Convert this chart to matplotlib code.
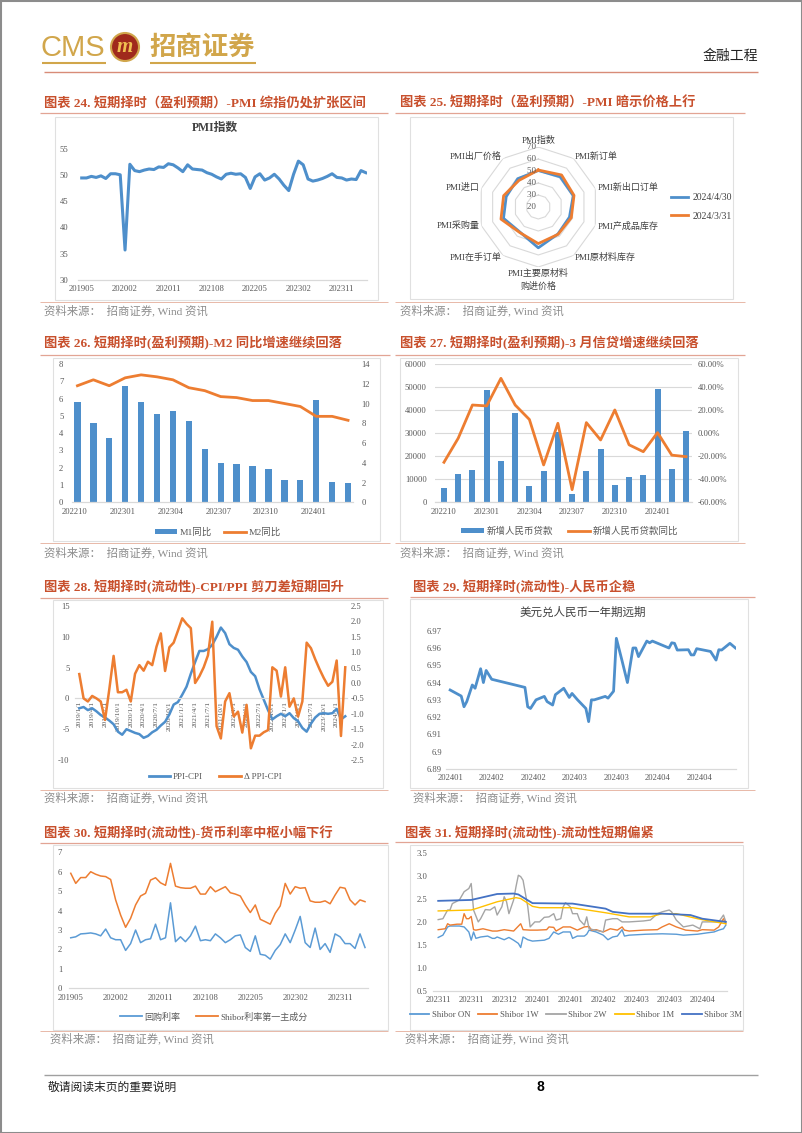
import numpy as np
import matplotlib
matplotlib.use("Agg")
import matplotlib.pyplot as plt
from matplotlib.patches import Rectangle, Circle, Patch
from matplotlib.lines import Line2D

W, H = 802, 1133
SERIF = ['Liberation Serif', 'Noto Sans CJK SC']
plt.rcParams['font.family'] = SERIF
plt.rcParams['axes.unicode_minus'] = False

BLUE = '#4E8FCB'
ORANGE = '#ED7D31'
TICKC = '#595959'
GRIDC = '#D9D9D9'
TITLEC = '#C8502D'
GOLD = '#D1A64B'

# ================= DATA =================
# Chart 24: PMI
pmi_values = [49.4, 49.4, 49.7, 49.5, 49.8, 49.3, 50.2, 50.2,
              50.0, 35.7, 52.0, 50.8, 50.6, 50.9, 51.1, 51.0, 51.5, 51.4, 52.1, 51.9,
              51.3, 50.6, 51.9, 51.1, 51.0, 50.9, 50.4, 50.1, 49.6, 49.2, 50.1, 50.3,
              50.1, 50.2, 49.5, 47.4, 49.6, 50.2, 49.0, 49.4, 50.1, 49.2, 48.0, 47.0,
              50.1, 52.6, 51.9, 49.2, 48.8, 49.0, 49.3, 49.7, 50.2, 49.5, 49.4, 49.0,
              49.2, 49.1, 50.8, 50.4]
monthly_tick_labels = ['201905', '202002', '202011', '202108', '202205', '202302', '202311']

# Chart 25: PMI radar
radar_labels = ['PMI指数', 'PMI新订单', 'PMI新出口订单', 'PMI产成品库存', 'PMI原材料库存',
                'PMI主要原材料\n购进价格', 'PMI在手订单', 'PMI采购量', 'PMI进口', 'PMI出厂价格']
radar_apr = [50.4, 51.1, 50.6, 47.3, 47.8, 54.0, 45.9, 50.5, 48.1, 49.1]
radar_mar = [50.8, 53.0, 51.3, 48.9, 48.1, 50.5, 46.3, 52.7, 50.4, 47.4]
radar_names = ['2024/4/30', '2024/3/31']
radar_rings = [30, 40, 50, 60, 70]
radar_ticks = [20, 30, 40, 50, 60, 70]

# Chart 26: M1 / M2
m1_yoy = [5.8, 4.6, 3.7, 6.7, 5.8, 5.1, 5.3, 4.7, 3.1, 2.3, 2.2, 2.1, 1.9, 1.3, 1.3, 5.9, 1.2, 1.1]
m2_yoy = [11.8, 12.4, 11.8, 12.6, 12.9, 12.7, 12.4, 11.6, 11.3, 10.7, 10.6, 10.3, 10.3, 10.0, 9.7, 8.7, 8.7, 8.3]
quarter_tick_labels = ['202210', '202301', '202304', '202307', '202310', '202401']

# Chart 27: new RMB loans
loan_new = [6152, 12100, 14000, 49000, 18100, 38900, 7188, 13600, 30500, 3459,
            13600, 23100, 7384, 10900, 11700, 49200, 14500, 30900]
loan_yoy = [-25.2, -4.3, 24.6, 23.8, 47.8, 24.6, 12.0, -27.5, 8.7, -49.0,
            9.3, -5.8, 20.3, -10.0, -16.0, 0.6, -19.0, -20.3]

# Chart 28: PPI-CPI and its change
ppi_cpi = [-1.6, -1.4, -1.9, -1.6, -2.1, -2.7, -3.1, -3.6, -4.2, -5.4, -5.9, -5.0,
           -5.3, -5.6, -5.8, -6.4, -6.1, -5.5, -5.1, -4.4, -3.8, -2.6, -1.0, -0.6,
           0.6, 1.9, 4.0, 5.9, 7.7, 7.7, 8.0, 8.7, 10.0, 11.5, 10.6, 8.8,
           8.2, 7.9, 6.8, 5.9, 4.3, 3.6, 1.5, -0.2, -1.9, -3.4, -2.9, -2.5,
           -2.9, -2.4, -3.2, -3.7, -4.8, -5.4, -4.1, -3.1, -2.5, -2.4, -2.5, -2.4,
           -1.7, -3.4, -2.9]
d_ppi_cpi = [0.29, -0.5, -0.6, -0.42, -0.5, -0.6, -1.2, -0.2, 0.88, -0.3, -0.3, -0.22,
             -0.6, 0.3, 0.58, 0.4, 0.69, 0.58, 1.18, 1.61, 0.39, 1.16, 1.31, 1.7,
             2.1, 1.92, 1.78, 0.0, 0.22, 0.51, 0.9, 1.99, -1.4, -1.8, -0.6, -0.33,
             -1.09, -0.93, -1.61, -0.71, -2.12, -1.71, -1.71, -1.6, -1.53, 0.51, 0.4, -0.44,
             0.51, -0.77, -0.5, -1.09, -0.6, 1.31, 1.13, 0.77, 0.45, 0.16, -0.09, 0.04,
             0.73, -1.72, 0.51]
ppi_tick_labels = ['2019/1/1', '2019/4/1', '2019/7/1', '2019/10/1',
                   '2020/1/1', '2020/4/1', '2020/7/1', '2020/10/1',
                   '2021/1/1', '2021/4/1', '2021/7/1', '2021/10/1',
                   '2022/1/1', '2022/4/1', '2022/7/1', '2022/10/1',
                   '2023/1/1', '2023/4/1', '2023/7/1', '2023/10/1', '2024/1/1']

# Chart 29: USD/CNY 1Y forward (day offsets, values)
fx_day = [0, 4, 5, 6, 8, 9, 11, 12, 13, 15, 27, 28, 29, 31, 34, 35, 37, 38, 41, 43,
          44, 46, 49, 50, 51, 52, 56, 57, 59, 60, 62, 64, 65, 66, 67, 68, 71, 72, 73,
          79, 80, 81, 82, 86, 87, 88, 89, 94, 96, 97, 98, 101, 103]
fx_val = [6.9357, 6.9322, 6.926, 6.929, 6.9386, 6.9367, 6.948, 6.940, 6.947, 6.9419,
          6.9372, 6.926, 6.925, 6.930, 6.932, 6.929, 6.927, 6.933, 6.9367, 6.9314,
          6.9337, 6.930, 6.925, 6.9174, 6.930, 6.930, 6.932, 6.931, 6.935, 6.9656,
          6.953, 6.940, 6.950, 6.960, 6.960, 6.955, 6.964, 6.963, 6.964,
          6.960, 6.963, 6.9627, 6.9588, 6.959, 6.956, 6.956, 6.9596, 6.958, 6.953,
          6.959, 6.9588, 6.9627, 6.960]
fx_tick_labels = ['202401', '202402', '202402', '202403', '202403', '202404', '202404']

# Chart 30: repo rate & Shibor first principal component
repo_rate = [2.6, 2.65, 2.8, 2.82, 2.85, 2.8, 2.7, 3.05, 2.6, 2.5, 2.5, 1.95,
             2.3, 3.0, 2.35, 2.5, 2.55, 3.3, 2.5, 2.6, 4.4, 2.4, 2.65, 2.4,
             2.7, 3.2, 2.45, 2.5, 2.45, 2.8, 2.6, 2.35, 2.5, 2.7, 2.75, 2.1,
             1.9, 2.7, 1.75, 1.7, 1.5, 1.95, 2.25, 2.8, 2.35, 3.0, 3.7, 2.35,
             2.1, 3.1, 2.0, 2.3, 1.85, 2.8, 2.65, 2.3, 2.3, 2.05, 2.8, 2.1]
shibor_pc1 = [5.92, 5.4, 5.7, 5.7, 6.0, 5.87, 5.78, 5.75, 5.6, 4.55, 3.77, 3.14,
              3.6, 4.29, 4.75, 4.89, 5.57, 5.69, 5.43, 5.3, 6.43, 5.26, 5.18, 5.15,
              5.15, 5.26, 4.85, 4.85, 5.23, 4.97, 5.1, 5.23, 4.92, 4.85, 4.75, 4.29,
              3.9, 4.29, 3.55, 3.43, 3.3, 3.86, 4.24, 5.4, 4.85, 5.23, 5.15, 5.18,
              4.5, 4.43, 4.43, 4.5, 4.35, 4.8, 5.2, 5.15, 4.55, 4.29, 4.55, 4.46]

# Chart 31: Shibor curves (trading-day index, value)
on_x = [0, 2, 4, 5, 9, 11, 13, 14, 15, 16, 18, 21, 23, 24, 25, 28, 30, 32, 34, 35, 36, 38, 40,
        45, 47, 49, 51, 53, 56, 57, 59, 62, 63, 64, 67, 70, 72, 74, 76, 78, 79, 81, 88, 95,
        101, 104, 110, 114, 117, 119, 121, 122]
on_y = [1.66, 1.71, 1.89, 1.91, 1.91, 1.89, 1.78, 1.60, 1.78, 1.64, 1.67, 1.69, 1.64, 1.64,
        1.67, 1.61, 1.66, 1.60, 1.53, 1.44, 1.67, 1.61, 1.58, 1.60, 1.64, 1.78, 1.73, 1.78,
        1.78, 1.64, 1.69, 1.69, 1.73, 1.82, 1.78, 1.71, 1.61, 1.67, 1.69, 1.83, 1.69, 1.71,
        1.73, 1.74, 1.73, 1.71, 1.73, 1.76, 1.78, 1.82, 1.85, 1.93]
w1_x = [0, 3, 4, 5, 8, 10, 11, 12, 13, 14, 15, 16, 19, 23, 25, 28, 32, 35, 36, 39, 42, 46,
        47, 49, 50, 53, 56, 59, 62, 64, 65, 67, 70, 73, 76, 78, 79, 81, 87, 93, 95, 98,
        101, 105, 110, 112, 117, 119, 121, 122]
w1_y = [1.83, 1.85, 1.96, 1.93, 1.95, 1.95, 2.18, 2.07, 2.07, 2.12, 1.83, 1.82, 1.85, 1.80,
        1.80, 1.83, 1.80, 1.96, 1.83, 1.82, 1.82, 1.83, 1.89, 1.88, 1.80, 1.89, 1.89, 1.82,
        1.89, 1.90, 1.82, 1.83, 1.78, 1.85, 1.82, 1.89, 1.82, 1.80, 1.82, 1.83, 1.89, 1.96,
        1.89, 1.82, 1.80, 1.83, 1.82, 1.89, 2.07, 1.96]
w2_x = [0, 2, 4, 5, 6, 9, 11, 13, 14, 15, 17, 18, 20, 22, 24, 25, 27, 28, 29, 30, 32, 33,
        34, 35, 36, 38, 39, 41, 43, 45, 47, 49, 50, 52, 53, 54, 56, 57, 59, 60, 62, 63, 64,
        70, 71, 74, 76, 78, 81, 87, 90, 93, 95, 98, 99, 101, 104, 108, 111, 112, 117, 119,
        121, 122]
w2_y = [2.05, 2.07, 2.26, 2.26, 2.40, 2.48, 2.66, 2.73, 2.84, 2.26, 2.00, 2.07, 2.27, 2.26,
        2.33, 2.15, 2.33, 2.55, 2.44, 2.18, 2.48, 2.77, 3.02, 2.99, 2.91, 2.33, 1.89, 2.00,
        2.00, 2.10, 2.11, 2.18, 2.04, 2.07, 2.33, 2.42, 2.33, 2.18, 2.18, 2.04, 1.93, 2.11,
        1.85, 1.78, 2.04, 2.07, 2.07, 2.00, 2.00, 2.02, 2.04, 2.18, 2.22, 2.26, 2.22, 2.04,
        1.89, 1.93, 1.85, 2.00, 2.00, 2.00, 2.15, 2.00]
m1_x = [0, 14, 16, 25, 33, 35, 40, 43, 57, 71, 81, 90, 95, 101, 110, 115, 122]
m1_y = [2.24, 2.26, 2.29, 2.44, 2.53, 2.51, 2.34, 2.31, 2.31, 2.20, 2.11, 2.11, 2.18, 2.18,
        2.07, 2.02, 1.96]
m3_x = [0, 14, 25, 32, 34, 40, 57, 71, 74, 81, 95, 107, 112, 122]
m3_y = [2.46, 2.48, 2.61, 2.62, 2.60, 2.41, 2.40, 2.29, 2.22, 2.18, 2.18, 2.15, 2.07, 2.00]
shibor_names = ['Shibor ON', 'Shibor 1W', 'Shibor 2W', 'Shibor 1M', 'Shibor 3M']
shibor_colors = ['#5B9BD5', '#ED7D31', '#A5A5A5', '#FFC000', '#4472C4']
shibor_tick_labels = ['202311', '202311', '202312', '202401', '202401', '202402',
                      '202403', '202403', '202404']

# ================= FIGURE =================
fig = plt.figure(figsize=(W / 100, H / 100), dpi=100)
bg = fig.add_axes([0, 0, 1, 1])
bg.set_xlim(0, W)
bg.set_ylim(H, 0)
bg.axis('off')


def rect(x0, y0, x1, y1):
    return [x0 / W, 1 - y1 / H, (x1 - x0) / W, (y1 - y0) / H]


def fpos(x, y):
    return (x / W, 1 - y / H)


def hline(y, x0, x1, color, lw=0.8):
    bg.plot([x0, x1], [y, y], color=color, lw=lw, solid_capstyle='butt')


# page border
bg.add_patch(Rectangle((0.5, 0.5), W - 1, H - 1, fill=False, edgecolor='#8C8C8C', lw=1.5))

# header
bg.text(41, 48, 'CMS', fontsize=21, color=GOLD, family=['Liberation Sans'], va='center', ha='left')
bg.add_patch(Circle((125, 47), 14, facecolor='#A02A1C', edgecolor=GOLD, lw=1.5))
bg.text(125, 47, 'm', fontsize=15, color='#F0C050', weight='bold', style='italic',
        family=['Liberation Serif'], ha='center', va='center')
bg.text(149, 47, '招商证券', fontsize=19, color=GOLD, family=['Noto Sans CJK SC'],
        va='center', ha='left', weight='bold')
hline(63, 42, 106, GOLD, 1.5)
hline(63, 150, 256, GOLD, 1.5)
bg.text(758, 56, '金融工程', fontsize=10, color='#222222', family=['Noto Sans CJK SC'],
        ha='right', va='center')
hline(72, 44, 758, '#D88C78', 1.0)

# footer
hline(1075, 44, 758, '#A0A0A0', 1.0)
bg.text(48, 1087, '敬请阅读末页的重要说明', fontsize=8.5, color='#222222',
        family=['Noto Sans CJK SC'], va='center')
bg.text(540, 1087, '8', fontsize=10, weight='bold', family=['Liberation Sans'], va='center', ha='center')

SRC = '资料来源：  招商证券, Wind 资讯'
sections = [
    # title, tx, ty, x0, x1, ytop, box, ybot, sx, sy
    ('图表 24. 短期择时（盈利预期）-PMI 综指仍处扩张区间', 44, 103, 40, 388, 113, (55, 117, 378, 300), 302, 44, 310),
    ('图表 25. 短期择时（盈利预期）-PMI 暗示价格上行', 400, 103, 395, 745, 113, (410, 117, 733, 299), 302, 400, 310),
    ('图表 26. 短期择时(盈利预期)-M2 同比增速继续回落', 44, 343, 40, 390, 355, (53, 358, 380, 541), 543, 44, 552),
    ('图表 27. 短期择时(盈利预期)-3 月信贷增速继续回落', 400, 343, 395, 745, 355, (400, 358, 738, 541), 543, 400, 552),
    ('图表 28. 短期择时(流动性)-CPI/PPI 剪刀差短期回升', 44, 587, 40, 388, 598, (53, 600, 383, 788), 790, 44, 797),
    ('图表 29. 短期择时(流动性)-人民币企稳', 413, 587, 410, 755, 597, (410, 599, 748, 788), 790, 413, 797),
    ('图表 30. 短期择时(流动性)-货币利率中枢小幅下行', 44, 833, 40, 388, 843, (53, 845, 388, 1030), 1031, 50, 1038),
    ('图表 31. 短期择时(流动性)-流动性短期偏紧', 405, 833, 395, 743, 842, (410, 845, 743, 1030), 1031, 405, 1038),
]
for (t, tx, ty, x0, x1, yt, box, yb, sx, sy) in sections:
    bg.text(tx, ty, t, fontsize=9.5, color=TITLEC, weight='bold', va='center', ha='left', family=SERIF)
    hline(yt, x0, x1, '#E2A494', 0.9)
    bx0, by0, bx1, by1 = box
    bg.add_patch(Rectangle((bx0, by0), bx1 - bx0, by1 - by0, fill=False, edgecolor='#E0E0E0', lw=0.8))
    hline(yb, x0, x1, '#E8B8A8', 0.7)
    bg.text(sx, sy, SRC, fontsize=8.2, color='#8C8C8C', va='center', ha='left', family=SERIF)


def base_style(ax, labelsize=6.2):
    for s in ['top', 'right', 'left']:
        ax.spines[s].set_visible(False)
    ax.spines['bottom'].set_color(GRIDC)
    ax.spines['bottom'].set_linewidth(0.9)
    ax.tick_params(length=0, labelsize=labelsize, colors=TICKC)
    ax.set_facecolor('none')


def twin_style(ax2, labelsize=6.2):
    for s in ['top', 'right', 'left', 'bottom']:
        ax2.spines[s].set_visible(False)
    ax2.tick_params(length=0, labelsize=labelsize, colors=TICKC)


# ---------- Chart 24 ----------
ax = fig.add_axes(rect(78, 148.5, 367, 280))
base_style(ax)
xi = np.arange(len(pmi_values))
ax.plot(xi, pmi_values, color=BLUE, lw=2.2)
ax.set_ylim(30, 55)
ax.set_yticks([30, 35, 40, 45, 50, 55])
ax.set_xlim(-0.77, 59.25)
ax.set_xticks(np.arange(0, 60, 9))
ax.set_xticklabels(monthly_tick_labels)
ax.tick_params(axis='y', pad=7)
ax.tick_params(axis='x', pad=3.5)
bg.text(215, 128, 'PMI指数', fontsize=8.5, weight='bold', ha='center', va='center', color='#404040')

# ---------- Chart 25 radar ----------
n = len(radar_labels)
ang = np.linspace(0, 2 * np.pi, n, endpoint=False)
closed = np.append(ang, ang[0])
axr = fig.add_axes(rect(478.3, 147, 598.3, 267), projection='polar')
axr.set_theta_zero_location('N')
axr.set_theta_direction(-1)
axr.set_ylim(20, 70)
axr.grid(False)
axr.spines['polar'].set_visible(False)
axr.set_xticks([])
axr.set_yticks([])
axr.set_facecolor('none')
for r in radar_rings:
    axr.plot(closed, [r] * (n + 1), color='#D9D9D9', lw=0.8)
axr.plot(closed, radar_apr + radar_apr[:1], color=BLUE, lw=2.0, label=radar_names[0])
axr.plot(closed, radar_mar + radar_mar[:1], color=ORANGE, lw=2.0, label=radar_names[1])
for r in radar_ticks:
    axr.text(0, r, f'{r} ', ha='right', va='center', fontsize=6.5, color=TICKC)
for a, lab in zip(ang, radar_labels):
    deg = np.degrees(a)
    if deg < 1:
        ha, va = 'center', 'bottom'
    elif abs(deg - 180) < 1:
        ha, va = 'center', 'top'
    elif deg < 180:
        ha, va = 'left', 'center'
    else:
        ha, va = 'right', 'center'
    axr.text(a, 71.7, lab, ha=ha, va=va, fontsize=6.5, color='#404040', linespacing=1.5)
fig.legend([Line2D([0], [0], color=BLUE, lw=2), Line2D([0], [0], color=ORANGE, lw=2)],
           radar_names, loc='center left', bbox_to_anchor=fpos(662, 207), frameon=False,
           fontsize=7, handlelength=1.8, labelspacing=1.0, handletextpad=0.4,
           labelcolor='#404040')

# ---------- Chart 26 ----------
ax = fig.add_axes(rect(71.7, 364, 353.3, 502.3))
base_style(ax)
xi = np.arange(len(m1_yoy))
ax.bar(xi, m1_yoy, width=0.4, color=BLUE)
ax.set_ylim(0, 8)
ax.set_yticks(range(0, 9))
ax.set_xlim(-0.36, 17.33)
ax.set_xticks(np.arange(0, 18, 3) - 0.15)
ax.set_xticklabels(quarter_tick_labels)
ax.tick_params(axis='y', pad=6)
ax.tick_params(axis='x', pad=4)
ax2 = ax.twinx()
twin_style(ax2)
ax2.plot(xi, m2_yoy, color=ORANGE, lw=2.0)
ax2.set_ylim(0, 14)
ax2.set_yticks(range(0, 15, 2))
ax2.tick_params(axis='y', pad=6)
fig.legend([Patch(facecolor=BLUE), Line2D([0], [0], color=ORANGE, lw=2)], ['M1同比', 'M2同比'],
           loc='center', bbox_to_anchor=fpos(218, 532), ncol=2, frameon=False, fontsize=6.8,
           handlelength=2.4, handleheight=0.5, columnspacing=1.2, handletextpad=0.3,
           labelcolor='#595959')

# ---------- Chart 27 ----------
ax = fig.add_axes(rect(435, 364.3, 692, 502.3))
base_style(ax)
xi = np.arange(len(loan_new))
ax.set_ylim(0, 60000)
ax.set_yticks(range(0, 60001, 10000))
ax.grid(axis='y', color=GRIDC, lw=0.8)
ax.set_axisbelow(True)
ax.bar(xi, loan_new, width=0.42, color=BLUE, zorder=2)
ax.set_xlim(-0.63, 17.42)
ax.set_xticks(np.arange(0, 18, 3))
ax.set_xticklabels(quarter_tick_labels)
ax.tick_params(axis='y', pad=6)
ax.tick_params(axis='x', pad=4)
ax2 = ax.twinx()
twin_style(ax2)
ax2.plot(xi, loan_yoy, color=ORANGE, lw=2.0)
ax2.set_ylim(-60, 60)
ax2.set_yticks(range(-60, 61, 20))
ax2.set_yticklabels([f'{v:.2f}%' for v in range(-60, 61, 20)])
ax2.tick_params(axis='y', pad=4)
fig.legend([Patch(facecolor=BLUE), Line2D([0], [0], color=ORANGE, lw=2)],
           ['新增人民币贷款', '新增人民币贷款同比'],
           loc='center', bbox_to_anchor=fpos(570, 531), ncol=2, frameon=False, fontsize=6.8,
           handlelength=2.4, handleheight=0.5, columnspacing=1.5, handletextpad=0.3,
           labelcolor='#595959')

# ---------- Chart 28 ----------
ax = fig.add_axes(rect(75, 606, 347.4, 760))
base_style(ax)
xi = np.arange(len(ppi_cpi))
ax.spines['bottom'].set_position(('data', 0))
ax.plot(xi, ppi_cpi, color=BLUE, lw=1.8)
ax.set_ylim(-10, 15)
ax.set_yticks(range(-10, 16, 5))
ax.set_xlim(-1, 62.5)
ax.set_xticks(np.arange(0, 63, 3))
ax.set_xticklabels(ppi_tick_labels, rotation=90, fontsize=5.3, va='top')
ax.tick_params(axis='y', pad=4)
ax.tick_params(axis='x', pad=2)
ax2 = ax.twinx()
twin_style(ax2)
ax2.plot(xi, d_ppi_cpi, color=ORANGE, lw=1.8)
ax2.set_ylim(-2.5, 2.5)
ax2.set_yticks(np.arange(-2.5, 2.51, 0.5))
ax2.set_yticklabels([f'{v:.1f}' for v in np.arange(-2.5, 2.51, 0.5)])
ax2.tick_params(axis='y', pad=2)
fig.legend([Line2D([0], [0], color=BLUE, lw=2), Line2D([0], [0], color=ORANGE, lw=2)],
           ['PPI-CPI', 'Δ PPI-CPI'],
           loc='center', bbox_to_anchor=fpos(215, 777), ncol=2, frameon=False, fontsize=6.5,
           handlelength=2.4, columnspacing=1.8, handletextpad=0.3, labelcolor='#595959')

# ---------- Chart 29 ----------
ax = fig.add_axes(rect(446, 630.7, 736, 769))
base_style(ax)
ax.plot(fx_day, fx_val, color=BLUE, lw=2.0)
ax.set_ylim(6.89, 6.97)
yt = [6.89, 6.90, 6.91, 6.92, 6.93, 6.94, 6.95, 6.96, 6.97]
ax.set_yticks(yt)
ax.set_yticklabels(['6.89', '6.9', '6.91', '6.92', '6.93', '6.94', '6.95', '6.96', '6.97'])
ax.set_xlim(-1.5, 103.2)
ax.set_xticks(np.arange(0, 91, 15))
ax.set_xticklabels(fx_tick_labels)
ax.tick_params(axis='y', pad=3)
ax.tick_params(axis='x', pad=3.5)
bg.text(583, 613, '美元兑人民币一年期远期', fontsize=8.3, ha='center', va='center', color='#404040')

# ---------- Chart 30 ----------
ax = fig.add_axes(rect(69, 852.3, 368, 988.3))
base_style(ax)
xi = np.arange(len(repo_rate))
ax.plot(xi, repo_rate, color='#5B9BD5', lw=1.1)
ax.plot(xi, shibor_pc1, color=ORANGE, lw=1.1)
ax.set_ylim(0, 7)
ax.set_yticks(range(0, 8))
ax.set_xlim(-0.35, 59.6)
ax.set_xticks(np.arange(0, 60, 9))
ax.set_xticklabels(monthly_tick_labels)
ax.tick_params(axis='y', pad=5)
ax.tick_params(axis='x', pad=4)
fig.legend([Line2D([0], [0], color='#5B9BD5', lw=1.3), Line2D([0], [0], color=ORANGE, lw=1.3)],
           ['回购利率', 'Shibor利率第一主成分'],
           loc='center', bbox_to_anchor=fpos(214, 1017), ncol=2, frameon=False, fontsize=6.5,
           handlelength=2.4, columnspacing=1.8, handletextpad=0.3, labelcolor='#595959')

# ---------- Chart 31 ----------
ax = fig.add_axes(rect(433, 853.3, 727, 990.5))
base_style(ax)
series31 = [(on_x, on_y), (w1_x, w1_y), (w2_x, w2_y), (m1_x, m1_y), (m3_x, m3_y)]
for (sx_, sy_), c, nm in zip(series31, shibor_colors, shibor_names):
    ax.plot(sx_, sy_, color=c, lw=1.0 if nm != 'Shibor 3M' else 1.3, label=nm)
ax.set_ylim(0.5, 3.5)
ax.set_yticks(np.arange(0.5, 3.51, 0.5))
ax.set_yticklabels([f'{v:.1f}' for v in np.arange(0.5, 3.51, 0.5)])
ax.set_xlim(-2.2, 122.5)
ax.set_xticks(np.arange(0, 113, 14))
ax.set_xticklabels(shibor_tick_labels)
ax.tick_params(axis='y', pad=4)
ax.tick_params(axis='x', pad=4.3)
fig.legend([Line2D([0], [0], color=c, lw=1.3) for c in shibor_colors], shibor_names,
           loc='center', bbox_to_anchor=fpos(576, 1015), ncol=5, frameon=False, fontsize=6.3,
           handlelength=2.2, columnspacing=0.9, handletextpad=0.3, labelcolor='#595959')

fig.savefig('out.png', dpi=100)
